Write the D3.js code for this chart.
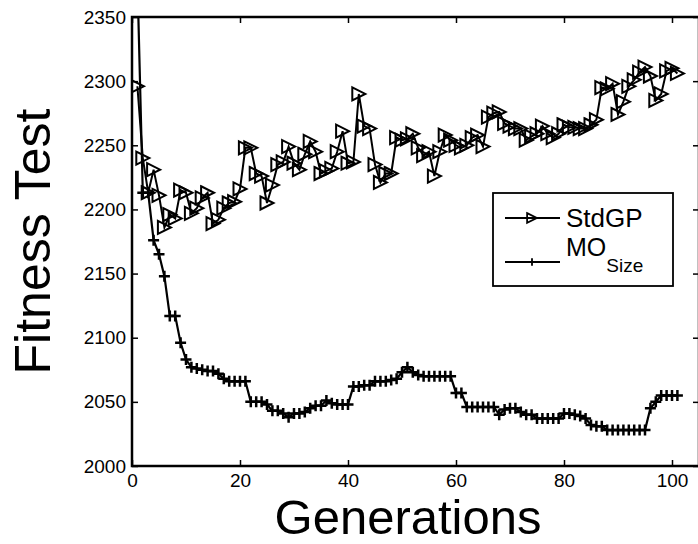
<!DOCTYPE html>
<html>
<head>
<meta charset="utf-8">
<script src="https://cdn.jsdelivr.net/npm/d3@7"></script>
<style>
  body { margin: 0; background: #fff; }
  svg { display: block; font-family: "Liberation Sans", Arial, sans-serif; }
</style>
</head>
<body>
<div class="chart"></div>
<script>
// generations 1..101
const generations = d3.range(1, 102);

const stdgp = [
  2296, 2240, 2213, 2231, 2211, 2186, 2196, 2193, 2215, 2213,
  2197, 2201, 2209, 2213, 2189, 2192, 2201, 2205, 2206, 2216,
  2248, 2248, 2228, 2226, 2205, 2219, 2235, 2237, 2249, 2236,
  2231, 2243, 2253, 2245, 2228, 2230, 2232, 2245, 2261, 2236,
  2237, 2290, 2265, 2263, 2235, 2221, 2228, 2228, 2256, 2254,
  2255, 2259, 2248, 2242, 2245, 2226, 2245, 2258, 2254, 2250,
  2248, 2250, 2256, 2258, 2249, 2272, 2275, 2276, 2267, 2265,
  2263, 2263, 2254, 2257, 2259, 2265, 2259, 2256, 2259, 2266,
  2264, 2264, 2263, 2263, 2266, 2270, 2295, 2294, 2298, 2274,
  2284, 2296, 2301, 2307, 2311, 2304, 2285, 2290, 2308, 2310,
  2306
];

const mosize = [
  2380, 2213, 2213, 2176, 2165, 2148, 2117, 2117, 2096, 2083,
  2077, 2076, 2075, 2074, 2074, 2072, 2068, 2066, 2066, 2066,
  2066, 2050, 2050, 2050, 2048, 2043, 2043, 2041, 2038, 2041,
  2041, 2042, 2045, 2047, 2047, 2051, 2049, 2048, 2048, 2048,
  2062, 2062, 2063, 2063, 2066, 2066, 2066, 2067, 2068, 2073,
  2077, 2073, 2071, 2070, 2070, 2070, 2070, 2070, 2070, 2057,
  2057, 2046, 2046, 2046, 2046, 2046, 2046, 2040, 2044, 2045,
  2045, 2042, 2040, 2040, 2037, 2037, 2037, 2037, 2037, 2041,
  2041, 2040, 2039, 2037, 2032, 2031, 2031, 2028, 2028, 2028,
  2028, 2028, 2028, 2028, 2028, 2045, 2050, 2055, 2055, 2055,
  2055
];

const x_ticks = [0, 20, 40, 60, 80, 100];
const y_ticks = [2000, 2050, 2100, 2150, 2200, 2250, 2300, 2350];

const W = 698, H = 544;
const left_edge = 132, right_edge = 699, top_edge = 17, bottom_edge = 466;

const svg = d3.select(".chart").append("svg")
  .attr("width", W)
  .attr("height", H);

const x = d3.scaleLinear().domain([0, 105]).range([left_edge, right_edge]);
const y = d3.scaleLinear().domain([2000, 2350]).range([bottom_edge, top_edge]);

svg.append("clipPath").attr("id", "plot")
  .append("rect")
  .attr("x", left_edge).attr("y", top_edge)
  .attr("width", right_edge - left_edge).attr("height", bottom_edge - top_edge);

// axes with inward ticks on all sides
const tick_len = 6;
svg.append("g")
  .attr("transform", `translate(0,${bottom_edge})`)
  .call(d3.axisBottom(x).tickValues(x_ticks).tickFormat(d3.format("d")).tickSizeInner(-tick_len).tickSizeOuter(0).tickPadding(8))
  .call(g => g.select(".domain").remove());
svg.append("g")
  .attr("transform", `translate(0,${top_edge})`)
  .call(d3.axisTop(x).tickValues(x_ticks).tickSizeInner(-tick_len).tickSizeOuter(0).tickFormat(""))
  .call(g => g.select(".domain").remove());
svg.append("g")
  .attr("transform", `translate(${left_edge},0)`)
  .call(d3.axisLeft(y).tickValues(y_ticks).tickFormat(d3.format("d")).tickSizeInner(-tick_len).tickSizeOuter(0).tickPadding(6))
  .call(g => g.select(".domain").remove());
svg.append("g")
  .attr("transform", `translate(${right_edge},0)`)
  .call(d3.axisRight(y).tickValues(y_ticks).tickSizeInner(-tick_len).tickSizeOuter(0).tickFormat(""))
  .call(g => g.select(".domain").remove());

svg.selectAll(".tick line").attr("stroke", "#000").attr("stroke-width", 1.5);
svg.selectAll(".tick text")
  .attr("fill", "#000")
  .style("font-size", "19px")
  .style("font-family", "'Liberation Sans', Arial, sans-serif");

svg.append("rect")
  .attr("x", left_edge).attr("y", top_edge)
  .attr("width", right_edge - left_edge).attr("height", bottom_edge - top_edge)
  .attr("fill", "none").attr("stroke", "#000").attr("stroke-width", 2.5);

// series
const plot = svg.append("g").attr("clip-path", "url(#plot)");
const line = d3.line().x((d, i) => x(generations[i])).y(d => y(d));

const tri = "M-6.5,-6.5 L6.5,0 L-6.5,6.5 Z";
const plus = "M-5.5,0 L5.5,0 M0,-5.5 L0,5.5";

plot.append("path").datum(stdgp)
  .attr("d", line).attr("fill", "none").attr("stroke", "#000").attr("stroke-width", 2);
plot.selectAll("path.tri").data(stdgp).enter().append("path")
  .attr("class", "tri")
  .attr("transform", (d, i) => `translate(${x(generations[i])},${y(d)})`)
  .attr("d", tri).attr("fill", "none").attr("stroke", "#000").attr("stroke-width", 2);

plot.append("path").datum(mosize)
  .attr("d", line).attr("fill", "none").attr("stroke", "#000").attr("stroke-width", 2.2);
plot.selectAll("path.plus").data(mosize).enter().append("path")
  .attr("class", "plus")
  .attr("transform", (d, i) => `translate(${x(generations[i])},${y(d)})`)
  .attr("d", plus).attr("fill", "none").attr("stroke", "#000").attr("stroke-width", 2.5);

// axis labels
svg.append("text")
  .attr("x", 408).attr("y", 534)
  .attr("text-anchor", "middle")
  .style("font-size", "49px")
  .text("Generations");
svg.append("text")
  .attr("transform", `translate(50,${(top_edge + bottom_edge) / 2}) rotate(-90)`)
  .attr("text-anchor", "middle")
  .style("font-size", "50px")
  .text("Fitness Test");

// legend
const legend = svg.append("g");
legend.append("rect")
  .attr("x", 493).attr("y", 193).attr("width", 180).attr("height", 93)
  .attr("fill", "#fff").attr("stroke", "#000").attr("stroke-width", 1.8);
legend.append("line").attr("x1", 505).attr("x2", 560).attr("y1", 218).attr("y2", 218)
  .attr("stroke", "#000").attr("stroke-width", 1.8);
legend.append("path").attr("transform", "translate(532,218) scale(0.75)")
  .attr("d", tri).attr("fill", "none").attr("stroke", "#000").attr("stroke-width", 2.4);
legend.append("line").attr("x1", 505).attr("x2", 560).attr("y1", 262).attr("y2", 262)
  .attr("stroke", "#000").attr("stroke-width", 1.8);
legend.append("path").attr("transform", "translate(532,262) scale(0.7)")
  .attr("d", plus).attr("fill", "none").attr("stroke", "#000").attr("stroke-width", 2.6);
legend.append("text").attr("x", 566).attr("y", 227)
  .style("font-size", "26px").text("StdGP");
const mo = legend.append("text").attr("x", 566).attr("y", 256)
  .style("font-size", "25px");
mo.append("tspan").text("MO");
mo.append("tspan").attr("dy", 16).style("font-size", "19px").text("Size");
</script>
</body>
</html>
